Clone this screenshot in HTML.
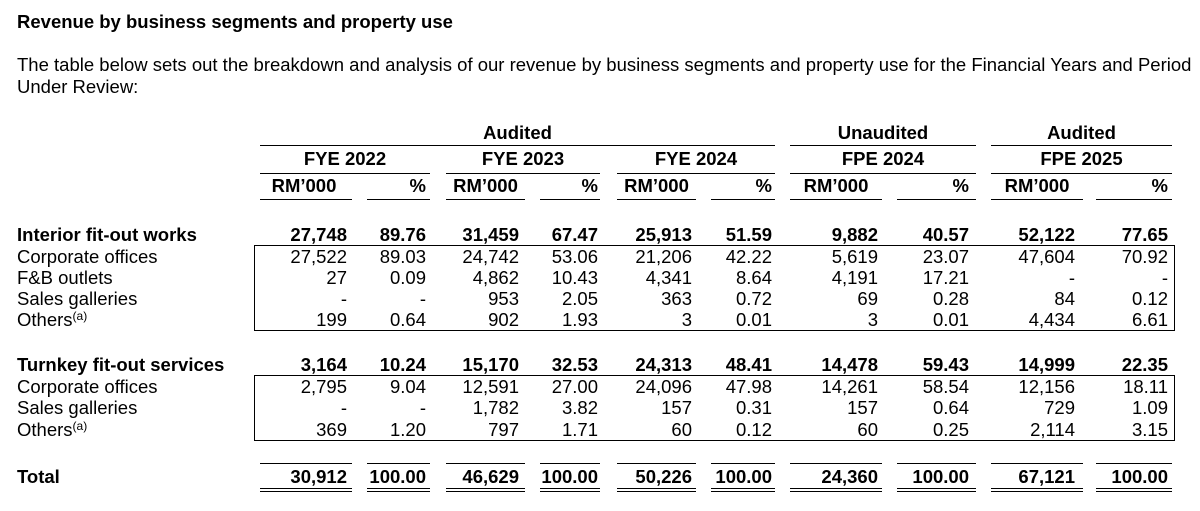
<!DOCTYPE html>
<html><head><meta charset="utf-8"><style>
body{margin:0;background:#fff;width:1200px;height:511px;position:relative;overflow:hidden;font-family:"Liberation Sans",Arial,sans-serif;font-size:18.5px;color:#000}
.t{position:absolute;line-height:20px;white-space:nowrap}
.r{position:absolute;line-height:20px;white-space:nowrap;text-align:right;width:120px}
.c{position:absolute;line-height:20px;white-space:nowrap;text-align:center}
.b{font-weight:bold}
.l{position:absolute;height:0;border-top:1.5px solid #000}
sup{font-size:12px;vertical-align:6px;line-height:0}
</style></head><body>
<div class="t b" style="left:17px;top:12px">Revenue by business segments and property use</div>
<div class="t" style="left:17px;top:55px">The table below sets out the breakdown and analysis of our revenue by business segments and property use for the Financial Years and Period</div>
<div class="t" style="left:17px;top:77px">Under Review:</div>

<div class="c b" style="left:260px;width:515px;top:123px">Audited</div>
<div class="c b" style="left:790px;width:186px;top:123px">Unaudited</div>
<div class="c b" style="left:991px;width:181px;top:123px">Audited</div>
<div class="l" style="left:260px;width:515px;top:145px"></div>
<div class="l" style="left:790px;width:186px;top:145px"></div>
<div class="l" style="left:991px;width:181px;top:145px"></div>

<div class="c b" style="left:260px;width:170px;top:149px">FYE 2022</div>
<div class="c b" style="left:446px;width:154px;top:149px">FYE 2023</div>
<div class="c b" style="left:617px;width:158px;top:149px">FYE 2024</div>
<div class="c b" style="left:790px;width:186px;top:149px">FPE 2024</div>
<div class="c b" style="left:991px;width:181px;top:149px">FPE 2025</div>
<div class="l" style="left:260px;width:170px;top:173px"></div>
<div class="l" style="left:446px;width:154px;top:173px"></div>
<div class="l" style="left:617px;width:158px;top:173px"></div>
<div class="l" style="left:790px;width:186px;top:173px"></div>
<div class="l" style="left:991px;width:181px;top:173px"></div>

<div class="c b" style="left:260px;width:88px;top:176px">RM’000</div>
<div class="r b" style="left:306px;top:176px">%</div>
<div class="c b" style="left:446px;width:79px;top:176px">RM’000</div>
<div class="r b" style="left:478px;top:176px">%</div>
<div class="c b" style="left:617px;width:79px;top:176px">RM’000</div>
<div class="r b" style="left:652px;top:176px">%</div>
<div class="c b" style="left:790px;width:92px;top:176px">RM’000</div>
<div class="r b" style="left:849px;top:176px">%</div>
<div class="c b" style="left:991px;width:92px;top:176px">RM’000</div>
<div class="r b" style="left:1048px;top:176px">%</div>
<div class="l" style="left:260px;width:92px;top:199px"></div>
<div class="l" style="left:367px;width:63px;top:199px"></div>
<div class="l" style="left:446px;width:79px;top:199px"></div>
<div class="l" style="left:540px;width:60px;top:199px"></div>
<div class="l" style="left:617px;width:79px;top:199px"></div>
<div class="l" style="left:711px;width:64px;top:199px"></div>
<div class="l" style="left:790px;width:92px;top:199px"></div>
<div class="l" style="left:897px;width:79px;top:199px"></div>
<div class="l" style="left:991px;width:92px;top:199px"></div>
<div class="l" style="left:1096px;width:76px;top:199px"></div>

<div style="position:absolute;left:254px;top:245px;width:921px;height:86px;border:1px solid #000;box-sizing:border-box"></div>
<div style="position:absolute;left:254px;top:375px;width:921px;height:66px;border:1px solid #000;box-sizing:border-box"></div>

<div class="l" style="left:260px;width:92px;top:463px"></div>
<div class="l" style="left:367px;width:63px;top:463px"></div>
<div class="l" style="left:446px;width:79px;top:463px"></div>
<div class="l" style="left:540px;width:60px;top:463px"></div>
<div class="l" style="left:617px;width:79px;top:463px"></div>
<div class="l" style="left:711px;width:64px;top:463px"></div>
<div class="l" style="left:790px;width:92px;top:463px"></div>
<div class="l" style="left:897px;width:79px;top:463px"></div>
<div class="l" style="left:991px;width:92px;top:463px"></div>
<div class="l" style="left:1096px;width:76px;top:463px"></div>
<div style="position:absolute;left:0;top:488px;width:1200px;height:5px">
<div class="l" style="left:260px;width:92px;top:0"></div><div class="l" style="left:260px;width:92px;top:3px"></div>
<div class="l" style="left:367px;width:63px;top:0"></div><div class="l" style="left:367px;width:63px;top:3px"></div>
<div class="l" style="left:446px;width:79px;top:0"></div><div class="l" style="left:446px;width:79px;top:3px"></div>
<div class="l" style="left:540px;width:60px;top:0"></div><div class="l" style="left:540px;width:60px;top:3px"></div>
<div class="l" style="left:617px;width:79px;top:0"></div><div class="l" style="left:617px;width:79px;top:3px"></div>
<div class="l" style="left:711px;width:64px;top:0"></div><div class="l" style="left:711px;width:64px;top:3px"></div>
<div class="l" style="left:790px;width:92px;top:0"></div><div class="l" style="left:790px;width:92px;top:3px"></div>
<div class="l" style="left:897px;width:79px;top:0"></div><div class="l" style="left:897px;width:79px;top:3px"></div>
<div class="l" style="left:991px;width:92px;top:0"></div><div class="l" style="left:991px;width:92px;top:3px"></div>
<div class="l" style="left:1096px;width:76px;top:0"></div><div class="l" style="left:1096px;width:76px;top:3px"></div>
</div>

<div id="rows"></div>
<script>
var E=[347,426,519,598,692,772,878,969,1075,1168];
var rows=[
[235,1,"Interior fit-out works",["27,748","89.76","31,459","67.47","25,913","51.59","9,882","40.57","52,122","77.65"]],
[257,0,"Corporate offices",["27,522","89.03","24,742","53.06","21,206","42.22","5,619","23.07","47,604","70.92"]],
[278,0,"F&amp;B outlets",["27","0.09","4,862","10.43","4,341","8.64","4,191","17.21","-","-"]],
[299,0,"Sales galleries",["-","-","953","2.05","363","0.72","69","0.28","84","0.12"]],
[320,0,"Others<sup>(a)</sup>",["199","0.64","902","1.93","3","0.01","3","0.01","4,434","6.61"]],
[365,1,"Turnkey fit-out services",["3,164","10.24","15,170","32.53","24,313","48.41","14,478","59.43","14,999","22.35"]],
[387,0,"Corporate offices",["2,795","9.04","12,591","27.00","24,096","47.98","14,261","58.54","12,156","18.11"]],
[408,0,"Sales galleries",["-","-","1,782","3.82","157","0.31","157","0.64","729","1.09"]],
[430,0,"Others<sup>(a)</sup>",["369","1.20","797","1.71","60","0.12","60","0.25","2,114","3.15"]],
[477,1,"Total",["30,912","100.00","46,629","100.00","50,226","100.00","24,360","100.00","67,121","100.00"]]];
var h="";
rows.forEach(function(r){var y=r[0]-10,b=r[1]?" b":"";
h+='<div class="t'+b+'" style="left:17px;top:'+y+'px">'+r[2]+'</div>';
r[3].forEach(function(v,i){h+='<div class="r'+b+'" style="left:'+(E[i]-120)+'px;top:'+y+'px">'+v+'</div>';});});
document.getElementById("rows").innerHTML=h;
</script>
</body></html>
